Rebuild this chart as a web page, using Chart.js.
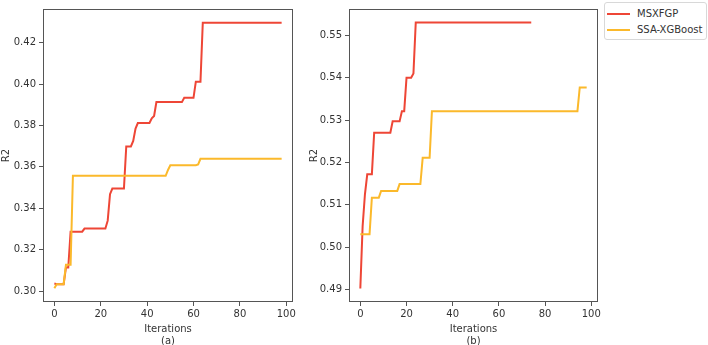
<!DOCTYPE html>
<html>
<head>
<meta charset="utf-8">
<script src="https://cdn.jsdelivr.net/npm/chart.js@4.4.1/dist/chart.umd.min.js"></script>
<style>
  html, body { margin: 0; padding: 0; background: #fff; }
  #wrap { position: relative; width: 708px; height: 345px; overflow: hidden; font-family: "DejaVu Sans", sans-serif; }
  canvas { position: absolute; top: 0; }
  #legendBox { position: absolute; left: 604px; top: 2px; width: 103px; height: 38px; box-sizing: border-box; border: 1px solid #d8d8d8; border-radius: 3px; background: #fff; }
  .lg-line { position: absolute; width: 23px; height: 2px; }
  .lg-text { position: absolute; font-size: 10px; line-height: 12px; color: #333; white-space: nowrap; }
</style>
</head>
<body>
<div id="wrap">
  <canvas id="chartA" width="300" height="345" style="left:0px"></canvas>
  <canvas id="chartB" width="310" height="345" style="left:300px"></canvas>
  <div id="legendBox"></div>
  <div class="lg-line" style="left:607px; top:13px; background:#EE4636"></div>
  <div class="lg-text" style="left:637px; top:8px">MSXFGP</div>
  <div class="lg-line" style="left:607px; top:29px; background:#FBB92B"></div>
  <div class="lg-text" style="left:637px; top:24px">SSA-XGBoost</div>
</div>
<script>
// ---- data ----
const seriesNames = ['MSXFGP', 'SSA-XGBoost'];
const seriesColors = ['#EE4636', '#FBB92B'];

// iteration index (x) for each recorded value
const iterations = Array.from({length: 99}, (_, i) => i);

// (a) MSXFGP, iterations 0..98
const msxfgpA = [
  0.3036, 0.3033, 0.3033, 0.3033, 0.3033, 0.3114, 0.3114, 0.3287, 0.3287, 0.3287,
  0.3287, 0.3287, 0.3287, 0.3302, 0.3302, 0.3302, 0.3302, 0.3302, 0.3302, 0.3302,
  0.3302, 0.3302, 0.3302, 0.3340, 0.3468, 0.3495, 0.3495, 0.3495, 0.3495, 0.3495,
  0.3495, 0.3699, 0.3699, 0.3699, 0.3725, 0.3785, 0.3812, 0.3812, 0.3812, 0.3812,
  0.3812, 0.3812, 0.3835, 0.3846, 0.3913, 0.3913, 0.3913, 0.3913, 0.3913, 0.3913,
  0.3913, 0.3913, 0.3913, 0.3913, 0.3913, 0.3913, 0.3934, 0.3934, 0.3934, 0.3934,
  0.3934, 0.4012, 0.4012, 0.4012, 0.4297, 0.4297, 0.4297, 0.4297, 0.4297, 0.4297,
  0.4297, 0.4297, 0.4297, 0.4297, 0.4297, 0.4297, 0.4297, 0.4297, 0.4297, 0.4297,
  0.4297, 0.4297, 0.4297, 0.4297, 0.4297, 0.4297, 0.4297, 0.4297, 0.4297, 0.4297,
  0.4297, 0.4297, 0.4297, 0.4297, 0.4297, 0.4297, 0.4297, 0.4297, 0.4297
];
// (a) SSA-XGBoost, iterations 0..98
const ssaA = [
  0.3013, 0.3033, 0.3033, 0.3033, 0.3033, 0.3127, 0.3127, 0.3127, 0.3557, 0.3557,
  0.3557, 0.3557, 0.3557, 0.3557, 0.3557, 0.3557, 0.3557, 0.3557, 0.3557, 0.3557,
  0.3557, 0.3557, 0.3557, 0.3557, 0.3557, 0.3557, 0.3557, 0.3557, 0.3557, 0.3557,
  0.3557, 0.3557, 0.3557, 0.3557, 0.3557, 0.3557, 0.3557, 0.3557, 0.3557, 0.3557,
  0.3557, 0.3557, 0.3557, 0.3557, 0.3557, 0.3557, 0.3557, 0.3557, 0.3557, 0.3585,
  0.3608, 0.3608, 0.3608, 0.3608, 0.3608, 0.3608, 0.3608, 0.3608, 0.3608, 0.3608,
  0.3608, 0.3608, 0.3612, 0.3639, 0.3639, 0.3639, 0.3639, 0.3639, 0.3639, 0.3639,
  0.3639, 0.3639, 0.3639, 0.3639, 0.3639, 0.3639, 0.3639, 0.3639, 0.3639, 0.3639,
  0.3639, 0.3639, 0.3639, 0.3639, 0.3639, 0.3639, 0.3639, 0.3639, 0.3639, 0.3639,
  0.3639, 0.3639, 0.3639, 0.3639, 0.3639, 0.3639, 0.3639, 0.3639, 0.3639
];
// (b) MSXFGP, iterations 0..74
const msxfgpB = [
  0.4903, 0.5050, 0.5125, 0.5172, 0.5172, 0.5172, 0.5270, 0.5270, 0.5270, 0.5270,
  0.5270, 0.5270, 0.5270, 0.5270, 0.5297, 0.5297, 0.5297, 0.5297, 0.5321, 0.5321,
  0.5400, 0.5400, 0.5400, 0.5410, 0.5530, 0.5530, 0.5530, 0.5530, 0.5530, 0.5530,
  0.5530, 0.5530, 0.5530, 0.5530, 0.5530, 0.5530, 0.5530, 0.5530, 0.5530, 0.5530,
  0.5530, 0.5530, 0.5530, 0.5530, 0.5530, 0.5530, 0.5530, 0.5530, 0.5530, 0.5530,
  0.5530, 0.5530, 0.5530, 0.5530, 0.5530, 0.5530, 0.5530, 0.5530, 0.5530, 0.5530,
  0.5530, 0.5530, 0.5530, 0.5530, 0.5530, 0.5530, 0.5530, 0.5530, 0.5530, 0.5530,
  0.5530, 0.5530, 0.5530, 0.5530, 0.5530
];
// (b) SSA-XGBoost, iterations 0..98
const ssaB = [
  0.5031, 0.5031, 0.5031, 0.5031, 0.5031, 0.5117, 0.5117, 0.5117, 0.5117, 0.5133,
  0.5133, 0.5133, 0.5133, 0.5133, 0.5133, 0.5133, 0.5133, 0.5149, 0.5149, 0.5149,
  0.5149, 0.5149, 0.5149, 0.5149, 0.5149, 0.5149, 0.5149, 0.5211, 0.5211, 0.5211,
  0.5211, 0.5321, 0.5321, 0.5321, 0.5321, 0.5321, 0.5321, 0.5321, 0.5321, 0.5321,
  0.5321, 0.5321, 0.5321, 0.5321, 0.5321, 0.5321, 0.5321, 0.5321, 0.5321, 0.5321,
  0.5321, 0.5321, 0.5321, 0.5321, 0.5321, 0.5321, 0.5321, 0.5321, 0.5321, 0.5321,
  0.5321, 0.5321, 0.5321, 0.5321, 0.5321, 0.5321, 0.5321, 0.5321, 0.5321, 0.5321,
  0.5321, 0.5321, 0.5321, 0.5321, 0.5321, 0.5321, 0.5321, 0.5321, 0.5321, 0.5321,
  0.5321, 0.5321, 0.5321, 0.5321, 0.5321, 0.5321, 0.5321, 0.5321, 0.5321, 0.5321,
  0.5321, 0.5321, 0.5321, 0.5321, 0.5321, 0.5377, 0.5377, 0.5377, 0.5377
];

const xTicks = [0, 20, 40, 60, 80, 100];
const yTicksA = [0.30, 0.32, 0.34, 0.36, 0.38, 0.40, 0.42];
const yTicksB = [0.49, 0.50, 0.51, 0.52, 0.53, 0.54, 0.55];
const panelLabels = ['(a)', '(b)'];

// ---- rendering ----
const FONT = { family: "'DejaVu Sans', sans-serif", size: 10 };
const TXT = '#333333';
const AXC = '#555555';

const framePlugin = {
  id: 'frame',
  afterDatasetsDraw(chart) {
    const a = chart.chartArea, ctx = chart.ctx;
    ctx.save();
    ctx.strokeStyle = AXC;
    ctx.lineWidth = 1;
    ctx.strokeRect(Math.round(a.left) + 0.5, Math.round(a.top) + 0.5,
                   Math.round(a.right - a.left) - 1, Math.round(a.bottom - a.top) - 1);
    ctx.restore();
  }
};

function makeChart(id, red, yellow, yTicks, yMin, yMax, panel, pad, yWidth) {
  return new Chart(document.getElementById(id), {
    type: 'line',
    data: {
      labels: iterations,
      datasets: [
        { label: seriesNames[0], data: red, borderColor: seriesColors[0], backgroundColor: seriesColors[0],
          borderWidth: 2, pointRadius: 0, tension: 0, fill: false, order: 1 },
        { label: seriesNames[1], data: yellow, borderColor: seriesColors[1], backgroundColor: seriesColors[1],
          borderWidth: 2, pointRadius: 0, tension: 0, fill: false, order: 0 }
      ]
    },
    options: {
      responsive: false,
      animation: false,
      devicePixelRatio: 1,
      layout: { padding: pad },
      plugins: { legend: { display: false }, tooltip: { enabled: false } },
      scales: {
        x: {
          type: 'linear', min: -4.9, max: 102.9,
          afterBuildTicks(s) { s.ticks = xTicks.map(v => ({ value: v })); },
          afterFit(s) { s.height = 43; },
          grid: { drawOnChartArea: false, drawTicks: true, tickLength: 4, color: AXC },
          border: { display: false },
          ticks: { font: FONT, color: TXT, padding: 2, maxRotation: 0, callback: v => String(v) },
          title: { display: true, text: ['Iterations', panel], font: { ...FONT, lineHeight: 1.27 }, color: TXT, padding: { top: 0, bottom: -3 } }
        },
        y: {
          type: 'linear', min: yMin, max: yMax,
          afterBuildTicks(s) { s.ticks = yTicks.map(v => ({ value: v })); },
          afterFit(s) { s.width = yWidth; },
          grid: { drawOnChartArea: false, drawTicks: true, tickLength: 4, color: AXC },
          border: { display: false },
          ticks: { font: FONT, color: TXT, padding: 3, callback: v => Number(v).toFixed(2) },
          title: { display: true, text: 'R2', font: FONT, color: TXT, padding: { top: 0, bottom: 0 } }
        }
      }
    },
    plugins: [framePlugin]
  });
}

makeChart('chartA', msxfgpA, ssaA, yTicksA, 0.2947, 0.4363, panelLabels[0],
          { top: 1, right: 7, bottom: 0, left: 0 }, 43);
makeChart('chartB', msxfgpB, ssaB, yTicksB, 0.4871, 0.5562, panelLabels[1],
          { top: 1, right: 12, bottom: 0, left: 8 }, 41);
</script>
</body>
</html>
